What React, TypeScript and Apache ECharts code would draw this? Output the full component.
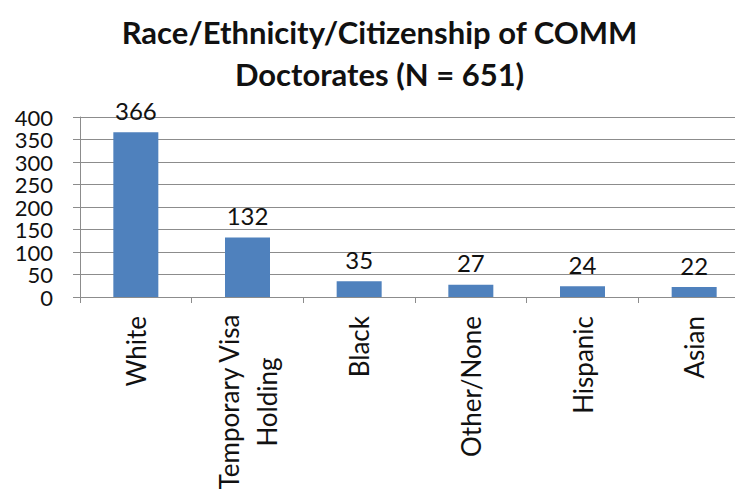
import React, { useEffect, useRef } from "react";
import * as echarts from "echarts";

const categories = ["White", "Temporary Visa\nHolding", "Black", "Other/None", "Hispanic", "Asian"];
const values = [366, 132, 35, 27, 24, 22];
const titleLines = ["Race/Ethnicity/Citizenship of COMM", "Doctorates (N = 651)"];

const FONT = "Lato, 'Open Sans', sans-serif";

export default function App() {
  const ref = useRef<HTMLDivElement>(null);
  useEffect(() => {
    if (!ref.current) return;
    const chart = echarts.init(ref.current, null, { renderer: "svg" });
    chart.setOption({
      animation: false,
      backgroundColor: "#ffffff",
      title: {
        text: titleLines.join("\n"),
        left: "center",
        top: 3,
        padding: 0,
        textStyle: {
          fontFamily: FONT,
          fontSize: 31,
          fontWeight: "bold",
          color: "#111",
          lineHeight: 42,
        },
      },
      grid: { left: 72, top: 109, width: 670, height: 180, containLabel: false },
      xAxis: {
        type: "category",
        data: categories,
        axisLine: { show: true, lineStyle: { color: "#8c8c8c", width: 1 } },
        axisTick: { show: true, length: 6, lineStyle: { color: "#8c8c8c" } },
        axisLabel: {
          rotate: 90,
          interval: 0,
          margin: 19,
          align: "right",
          formatter: (v: string) => {
            const parts = v.split("\n");
            if (parts.length > 1) return parts.map((s) => `{b|${s}}`).join("\n");
            return `{a|${v}}`;
          },
          rich: {
            a: {
              fontFamily: FONT,
              fontSize: 26,
              color: "#111",
              lineHeight: 38,
            },
            b: {
              fontFamily: FONT,
              fontSize: 26,
              color: "#111",
              lineHeight: 38,
              width: 172,
              align: "center",
            },
          },
        },
      },
      yAxis: {
        type: "value",
        min: 0,
        max: 400,
        interval: 50,
        axisLine: { show: true, lineStyle: { color: "#8c8c8c", width: 1 } },
        axisTick: { show: true, length: 7, lineStyle: { color: "#8c8c8c" } },
        axisLabel: {
          margin: 27,
          fontFamily: FONT,
          fontSize: 22,
          lineHeight: 20,
          color: "#111",
        },
        splitLine: { show: true, lineStyle: { color: "#8c8c8c", width: 1 } },
      },
      series: [
        {
          type: "bar",
          data: values,
          barWidth: 45,
          itemStyle: { color: "#4f81bd" },
          label: {
            show: true,
            position: "top",
            distance: 10,
            fontFamily: FONT,
            fontSize: 24,
            color: "#111",
          },
        },
      ],
    });
    return () => chart.dispose();
  }, []);
  return <div ref={ref} style={{ width: 743, height: 493 }} />;
}
